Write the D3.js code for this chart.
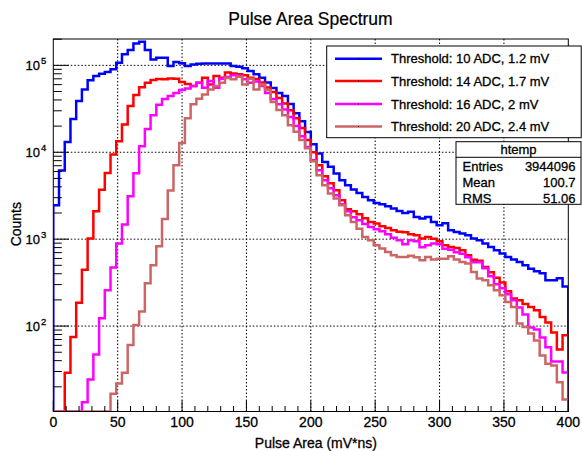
<!DOCTYPE html>
<meta charset="utf-8">
<script src="https://d3js.org/d3.v7.min.js"></script>
<style>
  body { margin: 0; background: #fff; }
  text { font-family: "Liberation Sans", Arial, sans-serif; fill: #000; stroke: #000; stroke-width: 0.3px; }
</style>
<div id="chart"></div>
<script>

// histogram range and bin contents (90 bins, 0-400 mV*ns)
var xRange = [0, 400];
var yRange = [10.4, 2.01e5];

var thr10 = [2460, 6170, 13100, 24100, 38800, 52900, 67200, 75300, 80000, 83800,
  89900, 107000, 134000, 150000, 179000, 187000, 150000, 117000, 122000, 122000,
  98000, 109000, 106000, 98000, 102000, 104000, 105000, 105000, 105000, 105000,
  105000, 98000, 96300, 92300, 85900, 78800, 72000, 63400, 54800, 48000,
  44300, 35800, 28200, 22800, 17100, 12400, 9690, 7740, 6790, 5700,
  4770, 4180, 3730, 3400, 3060, 2810, 2610, 2520, 2390, 2250,
  2110, 2000, 2070, 1800, 1730, 1800, 1580, 1450, 1520, 1270,
  1210, 1160, 1110, 1020, 971, 889, 813, 745, 682, 624,
  582, 546, 500, 458, 427, 405, 336, 336, 354, 286];

var thr14 = [0, 0, 29.1, 74.7, 186, 446, 1020, 2100, 3710, 5790,
  9440, 13400, 20900, 34000, 45500, 55800, 63000, 67700, 69500, 69000,
  70800, 70100, 64200, 60900, 57700, 63000, 72000, 60400, 75300, 72000,
  82600, 80500, 78800, 76700, 72000, 69500, 63400, 55500, 49200, 42000,
  36300, 30500, 24700, 19000, 13800, 10000, 7100, 5310, 4410, 3660,
  2810, 2210, 2100, 1940, 1740, 1580, 1510, 1410, 1340, 1270,
  1220, 1200, 1140, 1110, 1020, 1060, 1010, 946, 851, 813,
  792, 745, 652, 579, 564, 479, 416, 359, 318, 251,
  208, 198, 180, 166, 152, 127, 110, 84.5, 53.9, 78.2];

var thr16 = [0, 0, 0, 0, 0, 13.3, 24.3, 47.2, 123, 258,
  471, 890, 1470, 3120, 5740, 11700, 18500, 26700, 35300, 40900,
  44300, 48000, 51900, 54000, 57700, 63000, 55200, 65900, 55200, 70100,
  73300, 76700, 75300, 69000, 63000, 65000, 57700, 48000, 40900, 35600,
  31000, 25400, 20000, 15300, 11500, 8110, 6220, 4770, 3860, 3210,
  2520, 2100, 1790, 1650, 1490, 1380, 1300, 1230, 1140, 1040,
  971, 873, 971, 946, 807, 851, 889, 873, 775, 755,
  706, 679, 619, 542, 542, 462, 374, 302, 272, 232,
  198, 164, 136, 96.6, 91.6, 74.1, 56.9, 39.2, 39.2, 29.3];

var thr20 = [0, 0, 0, 0, 0, 0, 0, 0, 0, 0,
  16.6, 21.9, 29.1, 60.7, 103, 147, 310, 500, 829, 1710,
  3630, 7100, 12800, 24700, 35600, 41200, 46300, 52900, 57700, 63000,
  71400, 69000, 73900, 60400, 70100, 52900, 60400, 51900, 37800, 30600,
  26700, 20500, 17200, 13800, 11100, 7900, 5450, 4180, 3350, 2940,
  2460, 1880, 1580, 1320, 1060, 971, 851, 780, 713, 653,
  624, 624, 644, 618, 571, 624, 582, 597, 597, 635,
  582, 546, 524, 419, 352, 336, 294, 258, 226, 189,
  166, 107, 97.3, 82.4, 68.4, 45.9, 36.9, 35.3, 22.6, 14.3];

var seriesNames = ["Threshold: 10 ADC, 1.2 mV", "Threshold: 14 ADC, 1.7 mV",
  "Threshold: 16 ADC, 2 mV", "Threshold: 20 ADC, 2.4 mV"];
var seriesColors = ["#0000ff", "#ff0000", "#ff00ff", "#cc6666"];
var seriesData = [thr10, thr14, thr16, thr20];

var xTicks = [0, 50, 100, 150, 200, 250, 300, 350, 400];
var yTickExp = [2, 3, 4, 5];

var statLabels = ["Entries", "Mean", "RMS"];
var statValues = ["3944096", "100.7", "51.06"];

var width = 582, height = 451,
  margin = {top: 39, right: 13.7, bottom: 39.5, left: 53.3},
  w = width - margin.left - margin.right,
  h = height - margin.top - margin.bottom;

var svg = d3.select("#chart").append("svg")
  .attr("width", width).attr("height", height);

var x = d3.scaleLinear().domain(xRange).range([margin.left, margin.left + w]);
var y = d3.scaleLog().domain(yRange).range([margin.top + h, margin.top]);

// title
svg.append("text")
  .attr("x", 310.5).attr("y", 25)
  .attr("text-anchor", "middle")
  .style("font-size", "17.5px")
  .style("stroke-width", "0.2px")
  .text("Pulse Area Spectrum");

// grid
var grid = svg.append("g")
  .attr("stroke", "#000").attr("stroke-width", 1)
  .attr("stroke-dasharray", "1.5,2");
xTicks.slice(1, -1).forEach(function (t) {
  grid.append("line")
    .attr("x1", x(t)).attr("x2", x(t))
    .attr("y1", margin.top).attr("y2", margin.top + h);
});
yTickExp.forEach(function (e) {
  grid.append("line")
    .attr("x1", margin.left).attr("x2", margin.left + w)
    .attr("y1", y(Math.pow(10, e))).attr("y2", y(Math.pow(10, e)));
});

// histograms
svg.append("clipPath").attr("id", "clip")
  .append("rect")
  .attr("x", margin.left).attr("y", margin.top)
  .attr("width", w).attr("height", h);

var line = d3.line().x(function (d) { return x(d[0]); })
  .y(function (d) { return y(Math.max(d[1], yRange[0])); });

seriesData.forEach(function (vals, k) {
  var bw = (xRange[1] - xRange[0]) / vals.length;
  var pts = [[xRange[0], yRange[0]]];
  vals.forEach(function (v, i) {
    pts.push([xRange[0] + i * bw, v]);
    pts.push([xRange[0] + (i + 1) * bw, v]);
  });
  pts.push([xRange[1], yRange[0]]);
  svg.append("path")
    .attr("clip-path", "url(#clip)")
    .attr("d", line(pts))
    .attr("fill", "none")
    .attr("stroke", seriesColors[k])
    .attr("stroke-width", 2.5)
    .attr("stroke-linejoin", "miter");
});

// axes ticks
var ax = svg.append("g").attr("stroke", "#000").attr("stroke-width", 1);
for (var t = xRange[0]; t <= xRange[1]; t += 10) {
  var major = t % 50 === 0;
  ax.append("line")
    .attr("x1", x(t)).attr("x2", x(t))
    .attr("y1", margin.top + h).attr("y2", margin.top + h - (major ? 11 : 5.5));
}
for (var e = 1; e <= 5; e++) {
  for (var m = 1; m <= 9; m++) {
    var v = m * Math.pow(10, e);
    if (v < yRange[0] || v > yRange[1]) continue;
    ax.append("line")
      .attr("x1", margin.left).attr("x2", margin.left + (m === 1 ? 15.5 : 8.5))
      .attr("y1", y(v)).attr("y2", y(v));
  }
}

// frame
svg.append("rect")
  .attr("x", margin.left).attr("y", margin.top)
  .attr("width", w).attr("height", h)
  .attr("fill", "none").attr("stroke", "#000").attr("stroke-width", 1);

// tick labels
xTicks.forEach(function (t) {
  svg.append("text")
    .attr("x", x(t)).attr("y", 427)
    .attr("text-anchor", "middle")
    .style("font-size", "14px")
    .text(t);
});
yTickExp.forEach(function (e) {
  svg.append("text")
    .attr("x", 40).attr("y", y(Math.pow(10, e)) + 5)
    .attr("text-anchor", "end")
    .style("font-size", "13px")
    .text("10");
  svg.append("text")
    .attr("x", 41).attr("y", y(Math.pow(10, e)) - 1)
    .style("font-size", "9.5px")
    .text(e);
});

// axis titles
svg.append("text")
  .attr("x", 377).attr("y", 448)
  .attr("text-anchor", "end")
  .style("font-size", "14px")
  .text("Pulse Area (mV*ns)");
svg.append("text")
  .attr("transform", "translate(21,202) rotate(-90)")
  .attr("text-anchor", "end")
  .style("font-size", "14px")
  .text("Counts");

// legend
var leg = svg.append("g");
leg.append("rect")
  .attr("x", 326.7).attr("y", 46)
  .attr("width", 254.5).attr("height", 91.7)
  .attr("fill", "#fff").attr("stroke", "#000").attr("stroke-width", 1);
var rowY = [58.7, 81, 104, 126.5];
seriesNames.forEach(function (name, k) {
  leg.append("line")
    .attr("x1", 335).attr("x2", 382)
    .attr("y1", rowY[k]).attr("y2", rowY[k])
    .attr("stroke", seriesColors[k]).attr("stroke-width", 2.5);
  leg.append("rect")
    .attr("x", 358).attr("y", rowY[k] - 0.5)
    .attr("width", 1).attr("height", 1).attr("fill", "#000");
  leg.append("text")
    .attr("x", 391).attr("y", rowY[k] + 4.6)
    .style("font-size", "13px")
    .text(name);
});

// stats box
var st = svg.append("g");
st.append("rect")
  .attr("x", 456).attr("y", 141.7)
  .attr("width", 125).attr("height", 62.6)
  .attr("fill", "#fff").attr("stroke", "#000").attr("stroke-width", 1);
st.append("line")
  .attr("x1", 456).attr("x2", 581)
  .attr("y1", 157.3).attr("y2", 157.3)
  .attr("stroke", "#000").attr("stroke-width", 1);
st.append("text")
  .attr("x", 518.5).attr("y", 154)
  .attr("text-anchor", "middle")
  .style("font-size", "13px")
  .text("htemp");
var statY = [171, 186.8, 202.5];
statLabels.forEach(function (lab, i) {
  st.append("text")
    .attr("x", 462.5).attr("y", statY[i])
    .style("font-size", "13px")
    .text(lab);
  st.append("text")
    .attr("x", 575.5).attr("y", statY[i])
    .attr("text-anchor", "end")
    .style("font-size", "13px")
    .text(statValues[i]);
});

</script>
